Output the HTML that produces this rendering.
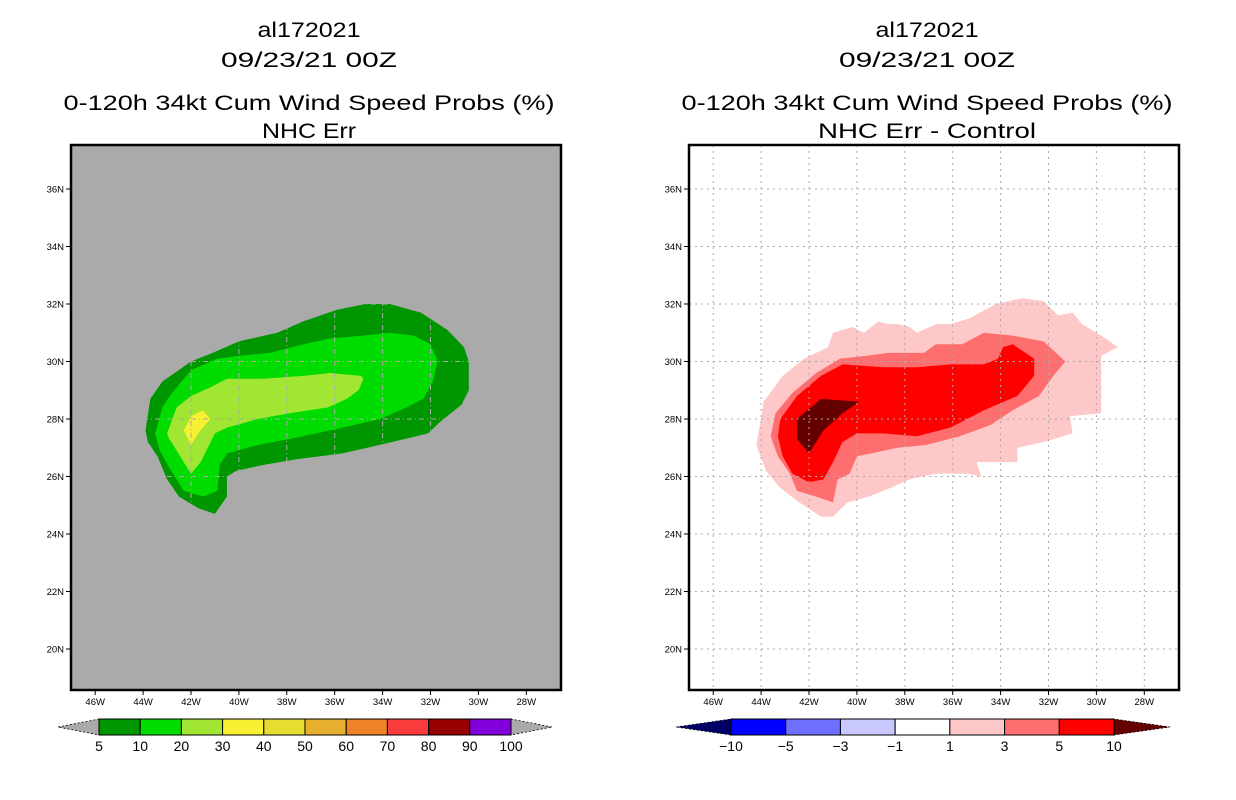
<!DOCTYPE html>
<html><head><meta charset="utf-8"><style>
html,body{margin:0;padding:0;background:#fff;}
svg{display:block;font-family:"Liberation Sans",sans-serif;}
</style></head><body>
<svg id="chart" width="1236" height="800" viewBox="0 0 1236 800" xmlns="http://www.w3.org/2000/svg"></svg>
<script>
// ---- data ----
const lonTicks = [46,44,42,40,38,36,34,32,30,28];
const latTicks = [36,34,32,30,28,26,24,22,20];
const leftLevels = ['5','10','20','30','40','50','60','70','80','90','100'];
const leftColors = ['#009600','#00dc00','#a0e632','#f8f032','#e6dc32','#e6af2d','#f08228','#fa3c3c','#960000','#8200dc'];
const rightLevels = ['−10','−5','−3','−1','1','3','5','10'];
const rightColors = ['#0000ff','#6e6eff','#c8c8ff','#ffffff','#ffc8c8','#ff6e6e','#ff0000'];
// contour polygons [lonW, latN]
const probs5 = [[43.9,27.6],[43.7,28.7],[43.2,29.3],[42.0,30.0],[41.1,30.3],[40.0,30.7],[38.4,31.0],[37.3,31.4],[35.9,31.8],[34.7,32.0],[33.7,32.0],[32.4,31.7],[31.3,31.1],[30.6,30.5],[30.4,30.0],[30.4,29.0],[30.7,28.5],[31.6,27.9],[32.1,27.5],[33.6,27.2],[35.7,26.8],[37.6,26.6],[39.0,26.4],[40.1,26.2],[40.5,26.0],[40.5,25.3],[41.0,24.7],[41.7,24.9],[42.5,25.3],[43.0,25.9],[43.4,26.7],[43.8,27.2]];
const probs10 = [[43.5,27.5],[43.2,28.4],[42.8,28.9],[42.0,29.7],[40.9,30.1],[40.0,30.2],[38.7,30.3],[37.3,30.6],[36.2,30.8],[34.8,30.9],[33.7,31.0],[32.7,30.9],[32.0,30.6],[31.7,30.0],[31.9,29.3],[32.3,28.7],[33.0,28.4],[34.1,28.0],[36.2,27.6],[37.9,27.3],[39.2,27.1],[40.5,26.8],[40.8,26.4],[40.9,25.5],[41.5,25.3],[42.3,25.5],[42.9,26.3],[43.3,26.9]];
const probs20 = [[43.0,27.5],[42.6,28.4],[42.0,28.8],[41.2,29.1],[40.5,29.4],[39.0,29.4],[37.3,29.5],[36.2,29.6],[34.9,29.5],[34.8,29.4],[35.0,29.0],[35.5,28.7],[36.3,28.4],[37.9,28.2],[39.2,28.0],[40.5,27.7],[41.0,27.5],[41.3,27.0],[41.6,26.5],[42.0,26.1],[42.3,26.5],[42.9,27.3]];
const probs30 = [[42.3,27.6],[42.0,28.1],[41.5,28.3],[41.2,28.0],[41.7,27.5],[42.0,27.1]];
const diff1 = [[44.2,27.1],[44.0,28.0],[43.9,28.6],[43.1,29.5],[42.2,30.1],[41.2,30.5],[41.0,31.0],[40.2,31.2],[39.7,31.0],[39.1,31.4],[38.7,31.3],[38.3,31.3],[37.8,31.2],[37.5,31.0],[36.7,31.3],[36.1,31.3],[35.3,31.5],[34.2,32.0],[33.1,32.2],[32.2,32.1],[31.6,31.6],[31.0,31.7],[30.6,31.3],[29.8,30.9],[29.1,30.5],[29.8,30.2],[29.8,28.2],[31.1,28.1],[31.0,27.5],[32.2,27.2],[33.3,27.0],[33.3,26.5],[35.0,26.5],[34.8,26.0],[35.4,26.1],[36.7,26.1],[37.8,25.9],[38.6,25.6],[39.5,25.3],[40.4,25.1],[41.0,24.6],[41.5,24.6],[42.4,25.1],[43.2,25.6],[43.8,26.2]];
const diff3 = [[43.6,27.4],[43.4,28.2],[42.7,28.9],[41.7,29.6],[40.7,30.1],[39.6,30.2],[38.7,30.3],[37.2,30.3],[36.7,30.6],[35.6,30.6],[34.7,31.0],[33.5,30.9],[32.2,30.7],[31.3,30.0],[31.8,29.5],[32.4,28.8],[33.5,28.3],[34.4,27.8],[35.7,27.4],[37.1,27.1],[38.3,27.0],[40.0,26.7],[40.3,26.1],[40.8,25.9],[41.0,25.1],[41.7,25.3],[42.5,25.5],[42.8,26.1],[43.3,26.7]];
const diff5 = [[43.3,27.4],[43.2,28.0],[42.5,28.8],[41.5,29.5],[40.6,29.9],[38.9,29.8],[37.5,29.8],[36.1,29.9],[34.7,29.9],[34.1,30.1],[33.9,30.5],[33.5,30.6],[32.6,30.1],[32.6,29.5],[33.3,28.8],[34.7,28.3],[36.1,27.7],[37.5,27.4],[38.9,27.5],[40.0,27.5],[40.6,27.2],[41.0,26.5],[41.4,25.9],[42.0,25.8],[42.7,26.1],[43.1,26.7]];
const diff10 = [[42.5,28.0],[41.5,28.7],[39.9,28.6],[40.6,28.2],[41.4,27.6],[42.0,26.8],[42.5,27.3]];

const NS='http://www.w3.org/2000/svg';
const svg=document.getElementById('chart');
function mk(tag,attrs,parent){const e=document.createElementNS(NS,tag);for(const k in attrs)e.setAttribute(k,attrs[k]);(parent||svg).appendChild(e);return e;}

const PLOT={top:145,bottom:690,w:490};
const panels=[{x0:71,bg:'#aaaaaa',name:'left',gridCol:'#aaaaaa',dash:'5,3,1,3'},{x0:689,bg:'#ffffff',name:'right',gridCol:'#aaaaaa',dash:'2,4'}];
function xScale(p,lon){return p.x0+120+(42-lon)*23.95;}
function yScale(lat){return 419-(lat-28)*28.75;}

function title(cx,y,txt,len,name){
  const t=mk('text',{x:cx,y:y,'text-anchor':'middle','font-size':21,textLength:len,lengthAdjust:'spacingAndGlyphs',fill:'#000'});
  t.textContent=txt;
  
  
}
function poly(p,pts,color,name){
  const d=pts.map(q=>xScale(p,q[0]).toFixed(1)+','+yScale(q[1]).toFixed(1)).join(' ');
  const e=mk('polygon',{points:d,fill:color});
  
  
}

panels.forEach((p,i)=>{
  const cx=p.x0+245-7+ (i===1?0:0);
  title(309+i*618,37,'al172021',103,'storm-id-title');
  title(309+i*618,67,'09/23/21 00Z',176,'date-title');
  title(309+i*618,110,'0-120h 34kt Cum Wind Speed Probs (%)',491,'product-title');
  if(i===0) title(309,138,'NHC Err',94,'subtitle');
  else title(927,138,'NHC Err - Control',218,'subtitle');
  const bg=mk('rect',{x:p.x0,y:PLOT.top,width:PLOT.w,height:PLOT.bottom-PLOT.top,fill:p.bg});
  
  
  if(i===0){
    poly(p,probs5,leftColors[0],'contour-5pct');
    poly(p,probs10,leftColors[1],'contour-10pct');
    poly(p,probs20,leftColors[2],'contour-20pct');
    poly(p,probs30,leftColors[3],'contour-30pct');
  } else {
    poly(p,diff1,rightColors[4],'contour-diff-1');
    poly(p,diff3,rightColors[5],'contour-diff-3');
    poly(p,diff5,rightColors[6],'contour-diff-5');
    poly(p,diff10,'#640000','contour-diff-10');
  }
  lonTicks.forEach(lon=>{
    const x=xScale(p,lon);
    const g=mk('line',{x1:x,x2:x,y1:PLOT.top,y2:PLOT.bottom,stroke:p.gridCol,'stroke-width':1,'stroke-dasharray':p.dash});
    
    
    mk('line',{x1:x,x2:x,y1:PLOT.bottom,y2:PLOT.bottom+5,stroke:'#000','stroke-width':1});
    const t=mk('text',{x:x,y:PLOT.bottom+15,'text-anchor':'middle','font-size':9.5,fill:'#000'});
    t.textContent=lon+'W';
    
    
  });
  latTicks.forEach(lat=>{
    const y=yScale(lat);
    const g=mk('line',{x1:p.x0,x2:p.x0+PLOT.w,y1:y,y2:y,stroke:p.gridCol,'stroke-width':1,'stroke-dasharray':p.dash});
    
    
    mk('line',{x1:p.x0-5,x2:p.x0,y1:y,y2:y,stroke:'#000','stroke-width':1});
    const t=mk('text',{x:p.x0-7,y:y+3.5,'text-anchor':'end','font-size':9.5,fill:'#000'});
    t.textContent=lat+'N';
    
    
  });
  const b=mk('rect',{x:p.x0,y:PLOT.top,width:PLOT.w,height:PLOT.bottom-PLOT.top,fill:'none',stroke:'#000','stroke-width':2.5});
  
  
});

function colorbar(x0,x1,colors,labels,leftTri,rightTri,triL,triR,name){
  const y0=719,y1=735,n=colors.length,w=(x1-x0)/n;
  const tl=mk('polygon',{points:`${triL},727 ${x0},${y0} ${x0},${y1}`,fill:leftTri,stroke:'#000','stroke-width':0.8,'stroke-dasharray':'2,2'});
  
  
  const tr=mk('polygon',{points:`${triR},727 ${x1},${y0} ${x1},${y1}`,fill:rightTri,stroke:'#000','stroke-width':0.8,'stroke-dasharray':'2,2'});
  
  
  colors.forEach((c,i)=>{
    const r=mk('rect',{x:x0+i*w,y:y0,width:w,height:y1-y0,fill:c,stroke:'#000','stroke-width':1});
    
    
  });
  labels.forEach((l,i)=>{
    const t=mk('text',{x:x0+i*w,y:751,'text-anchor':'middle','font-size':14,fill:'#000'});
    t.textContent=l;
    
    
  });
}
colorbar(99,511,leftColors,leftLevels,'#aaaaaa','#aaaaaa',58,552,'left-colorbar');
colorbar(731,1114,rightColors,rightLevels,'#000064','#640000',676,1170,'right-colorbar');
</script>
</body></html>
